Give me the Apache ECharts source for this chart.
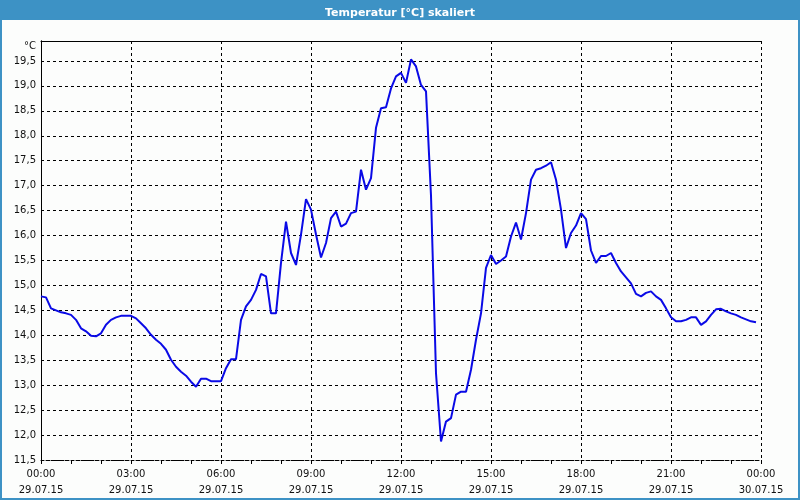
<!DOCTYPE html>
<html>
<head>
<meta charset="utf-8">
<script src="https://cdn.jsdelivr.net/npm/echarts@6/dist/echarts.min.js"></script>
<style>
html,body{margin:0;padding:0;background:#fcfdfc;}
#chart{width:800px;height:500px;}
</style>
</head>
<body>
<div id="chart"></div>
<script>
// Sampling: one reading every 10 minutes starting at 00:00 (29.07.15)
const startMinute = 0;
const stepMinutes = 10;
const temps = [
  14.78,14.76,14.54,14.50,14.46,14.44,14.41,14.31,14.14,14.08,
  13.99,13.98,14.04,14.21,14.31,14.36,14.39,14.39,14.39,14.34,
  14.24,14.14,14.01,13.91,13.83,13.71,13.51,13.37,13.27,13.19,
  13.07,12.97,13.13,13.13,13.08,13.08,13.08,13.34,13.52,13.52,
  14.31,14.58,14.71,14.91,15.23,15.18,14.44,14.44,15.45,16.28,
  15.65,15.41,16.02,16.73,16.52,16.02,15.56,15.85,16.35,16.48,
  16.18,16.24,16.45,16.48,17.32,16.92,17.15,18.16,18.55,18.57,
  18.95,19.19,19.26,19.06,19.53,19.39,19.02,18.89,16.80,13.24,
  11.87,12.27,12.34,12.81,12.87,12.87,13.31,13.91,14.44,15.35,
  15.61,15.43,15.50,15.58,15.98,16.26,15.92,16.45,17.12,17.32,
  17.35,17.40,17.47,17.12,16.52,15.75,16.05,16.20,16.45,16.33,
  15.70,15.45,15.59,15.59,15.65,15.45,15.28,15.16,15.04,14.83,
  14.78,14.85,14.88,14.78,14.71,14.54,14.36,14.28,14.28,14.31,
  14.36,14.36,14.21,14.28,14.41,14.52,14.53,14.48,14.44,14.41,
  14.36,14.32,14.28,14.26
];
const dayLabels = ['29.07.15', '30.07.15'];
const titleText = 'Temperatur [°C] skaliert';
const unitText = '°C';

const seriesData = temps.map((t, i) => [startMinute + i * stepMinutes, t]);

const font = 'DejaVu Sans';
const chart = echarts.init(document.getElementById('chart'), null, {renderer: 'canvas'});

function xLabel(v) {
  const m = Math.round(v);
  const h = Math.floor(m / 60) % 24;
  const day = m >= 1440 ? dayLabels[1] : dayLabels[0];
  return String(h).padStart(2, '0') + ':00\n' + day;
}

chart.setOption({
  backgroundColor: '#fcfdfc',
  animation: false,
  title: {
    text: titleText,
    left: 'center',
    top: 3,
    textStyle: {color: '#ffffff', fontFamily: font, fontWeight: 'bold', fontSize: 11}
  },
  graphic: [
    {type: 'rect', left: 0, top: 0, z: -1, shape: {width: 800, height: 20}, style: {fill: '#3d92c5'}},
    {type: 'rect', left: 0, top: 0, z: 10, shape: {width: 2, height: 500}, style: {fill: '#3d92c5'}},
    {type: 'rect', right: 0, top: 0, z: 10, shape: {width: 2, height: 500}, style: {fill: '#3d92c5'}},
    {type: 'rect', left: 0, bottom: 0, z: 10, shape: {width: 800, height: 2}, style: {fill: '#3d92c5'}}
  ],
  grid: {left: 41, right: 39, top: 41, bottom: 40, containLabel: false},
  xAxis: [
    {
      type: 'value', min: 0, max: 1440, interval: 180, position: 'bottom',
      axisLine: {show: true, lineStyle: {color: '#000', width: 1, type: [3, 2]}},
      axisTick: {show: true, length: 4, inside: false, lineStyle: {color: '#000'}},
      minorTick: {show: true, splitNumber: 3, length: 4, lineStyle: {color: '#000'}},
      axisLabel: {
        formatter: xLabel, color: '#111', fontFamily: font, fontSize: 10,
        lineHeight: 16, margin: 6, showMinLabel: true, showMaxLabel: true
      },
      splitLine: {show: true, lineStyle: {color: '#000', type: [3, 3], width: 1}}
    },
    {
      type: 'value', min: 0, max: 1440, position: 'top',
      axisLine: {show: true, lineStyle: {color: '#000', width: 1}},
      axisTick: {show: false}, axisLabel: {show: false}, splitLine: {show: false}
    }
  ],
  yAxis: [
    {
      type: 'value', min: 11.5, max: 19.9, interval: 0.5, position: 'left',
      name: unitText, nameLocation: 'end', nameGap: -10,
      nameTextStyle: {color: '#111', fontFamily: font, fontSize: 10, align: 'right', verticalAlign: 'bottom', padding: [0, 5, 0, 0]},
      axisLine: {show: true, lineStyle: {color: '#000', width: 1}},
      axisTick: {show: false},
      axisLabel: {
        color: '#111', fontFamily: font, fontSize: 10, margin: 5,
        formatter: v => (Math.abs(v * 2 - Math.round(v * 2)) < 1e-6 ? v.toFixed(1).replace('.', ',') : '')
      },
      splitLine: {show: true, lineStyle: {color: '#000', type: [3, 3], width: 1}}
    },
    {
      type: 'value', min: 11.5, max: 19.9, position: 'right',
      axisLine: {show: true, lineStyle: {color: '#000', width: 1}},
      axisTick: {show: false}, axisLabel: {show: false}, splitLine: {show: false}
    }
  ],
  series: [{
    type: 'line',
    data: seriesData,
    xAxisIndex: 0, yAxisIndex: 0,
    showSymbol: false,
    smooth: false,
    lineStyle: {color: '#0a0ae6', width: 2},
    itemStyle: {color: '#0a0ae6'},
    z: 5
  }]
});
</script>
</body>
</html>
